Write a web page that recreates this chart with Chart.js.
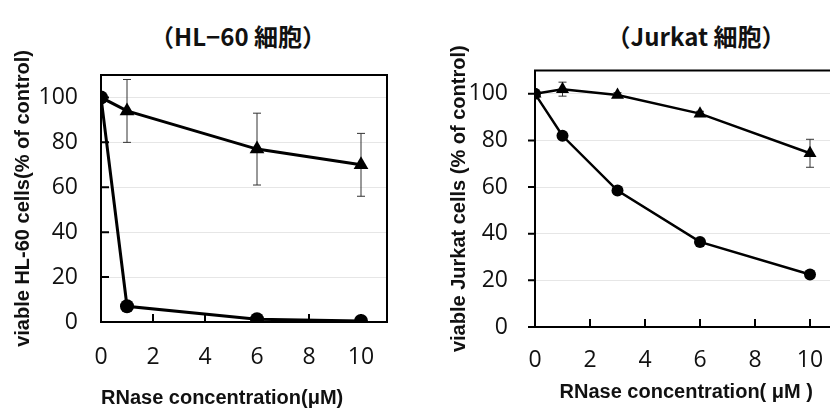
<!DOCTYPE html>
<html>
<head>
<meta charset="utf-8">
<script src="https://cdn.jsdelivr.net/npm/chart.js@4.4.1/dist/chart.umd.min.js"></script>
<style>
  body { margin: 0; width: 830px; height: 410px; overflow: hidden; background: #fff; position: relative; }
  canvas { position: absolute; top: 0; }
  #hl60 { left: 0; }
  #jurkat { left: 415px; }
  .panel-title {
    position: absolute; top: 18px; width: 400px; height: 26px; line-height: 26px;
    text-align: center; white-space: nowrap;
    font: bold 24px 'Noto Sans CJK JP', sans-serif; color: #111;
  }
</style>
</head>
<body>
<div class="panel-title" id="hl60-title" style="left:38px"></div>
<div class="panel-title" id="jurkat-title" style="left:496px"></div>
<canvas id="hl60" width="415" height="410"></canvas>
<canvas id="jurkat" width="430" height="410"></canvas>
<script>
// ================= Data =================
const xTicks = [0, 2, 4, 6, 8, 10];
const yTicks = [0, 20, 40, 60, 80, 100];

// HL-60 panel
const hl60Conc = [0, 1, 6, 10];
const hl60Circle = [100, 7, 1.2, 0.5];
const hl60Triangle = [100, 94, 77, 70];
const hl60TriangleErr = [0, 14, 16, 14];

// Jurkat panel
const jurkatConc = [0, 1, 3, 6, 10];
const jurkatCircle = [100, 82, 58.5, 36.5, 22.5];
const jurkatTriangle = [100, 102, 99.5, 91.5, 74.5];
const jurkatTriangleErr = [0, 3, 1, 1, 6];

const hl60Title = '（HL−60 細胞）';
const jurkatTitle = '（Jurkat 細胞）';
const hl60YTitle = 'viable HL-60 cells(% of control)';
const jurkatYTitle = 'viable Jurkat cells (% of control)';
const hl60XTitle = 'RNase concentration(μM)';
const jurkatXTitle = 'RNase concentration( μM )';

const toPoints = (xs, ys) => xs.map((x, i) => ({ x, y: ys[i] }));

// ================= Plugin: frame, tick marks, error bars =================
const axesBox = {
  id: 'axesBox',
  beforeDatasetsDraw(chart, args, opts) {
    const { ctx, chartArea: a, scales: { x, y } } = chart;
    ctx.save();
    ctx.strokeStyle = '#000';
    ctx.lineWidth = 2;
    ctx.strokeRect(a.left, a.top, a.right - a.left, a.bottom - a.top);

    ctx.beginPath();
    x.ticks.forEach(t => {
      const px = x.getPixelForValue(t.value);
      ctx.moveTo(px, a.bottom);
      ctx.lineTo(px, a.bottom - opts.xTick);
    });
    y.ticks.forEach(t => {
      const py = y.getPixelForValue(t.value);
      ctx.moveTo(a.left, py);
      ctx.lineTo(a.left + opts.yTick, py);
    });
    ctx.stroke();

    // error bars (behind markers)
    ctx.lineWidth = 1;
    ctx.strokeStyle = '#333';
    chart.data.datasets.forEach(ds => {
      if (!ds.err) return;
      ds.data.forEach((p, i) => {
        const e = ds.err[i];
        if (!e) return;
        const px = x.getPixelForValue(p.x);
        const top = y.getPixelForValue(p.y + e);
        const bot = y.getPixelForValue(p.y - e);
        ctx.beginPath();
        ctx.moveTo(px, top); ctx.lineTo(px, bot);
        ctx.moveTo(px - opts.cap, top); ctx.lineTo(px + opts.cap, top);
        ctx.moveTo(px - opts.cap, bot); ctx.lineTo(px + opts.cap, bot);
        ctx.stroke();
      });
    });
    ctx.restore();
  }
};

// ================= Chart builder =================
function makeChart(id, p) {
  const ctx = document.getElementById(id).getContext('2d');
  return new Chart(ctx, {
    type: 'line',
    data: {
      datasets: [
        {
          data: toPoints(p.conc, p.circle),
          borderColor: '#000', backgroundColor: '#000', borderWidth: p.lineWidth,
          pointStyle: 'circle', pointRadius: p.circleR, pointBorderWidth: 0
        },
        {
          data: toPoints(p.conc, p.triangle), err: p.triangleErr,
          borderColor: '#000', backgroundColor: '#000', borderWidth: p.lineWidth,
          pointStyle: 'triangle', pointRadius: p.triR, pointBorderWidth: 0
        }
      ]
    },
    options: {
      responsive: false,
      animation: false,
      layout: { padding: { left: 0, right: p.padRight, top: p.padTop, bottom: 0 } },
      plugins: {
        legend: { display: false },
        tooltip: { enabled: false },
        axesBox: { xTick: 8, yTick: p.yTick, cap: 4 }
      },
      scales: {
        x: {
          type: 'linear', min: 0, max: 11,
          afterBuildTicks: s => { s.ticks = xTicks.map(v => ({ value: v })); },
          afterFit: s => { s.height = p.xAxisH; },
          grid: { display: false, drawTicks: false },
          border: { display: false },
          ticks: { color: '#111', padding: p.xPad, font: { family: "'Open Sans'", size: 23 } },
          title: {
            display: true, text: p.xTitle, color: '#111', align: p.xTitleAlign,
            font: { family: "'Liberation Sans'", size: 20, weight: 'bold', lineHeight: 1.2 },
            padding: { top: 0, bottom: p.xTitleBottom }
          }
        },
        y: {
          min: 0, max: 110,
          afterBuildTicks: s => { s.ticks = yTicks.map(v => ({ value: v })); },
          afterFit: s => { s.width = p.yAxisW; },
          grid: {
            drawTicks: false,
            color: c => (c.tick && c.tick.value === 0) ? 'rgba(0,0,0,0)' : '#e6e6e6'
          },
          border: { display: false },
          ticks: { color: '#111', padding: p.yPad, font: { family: "'Open Sans'", size: 23 } },
          title: {
            display: true, text: p.yTitle, color: '#111',
            font: { family: "'Liberation Sans'", size: 20, weight: 'bold', lineHeight: 1.2 },
            padding: { top: p.yTitleLeft, bottom: 0 }
          }
        }
      }
    },
    plugins: [axesBox]
  });
}

document.addEventListener('DOMContentLoaded', () => {
  document.getElementById('hl60-title').textContent = hl60Title;
  document.getElementById('jurkat-title').textContent = jurkatTitle;

  makeChart('hl60', {
    conc: hl60Conc, circle: hl60Circle, triangle: hl60Triangle, triangleErr: hl60TriangleErr,
    xTitle: hl60XTitle, yTitle: hl60YTitle,
    lineWidth: 3, circleR: 7, triR: 8.5,
    padRight: 28, padTop: 75, xAxisH: 88, xPad: 22, xTitleBottom: 0, xTitleAlign: 'start',
    yAxisW: 101, yPad: 23, yTitleLeft: 11, yTick: 8
  });
  makeChart('jurkat', {
    conc: jurkatConc, circle: jurkatCircle, triangle: jurkatTriangle, triangleErr: jurkatTriangleErr,
    xTitle: jurkatXTitle, yTitle: jurkatYTitle,
    lineWidth: 2.5, circleR: 6, triR: 7.5,
    padRight: 7, padTop: 70.5, xAxisH: 83, xPad: 20, xTitleBottom: 6, xTitleAlign: 'center',
    yAxisW: 120, yPad: 27, yTitleLeft: 32, yTick: -7
  });
});
</script>
</body>
</html>
